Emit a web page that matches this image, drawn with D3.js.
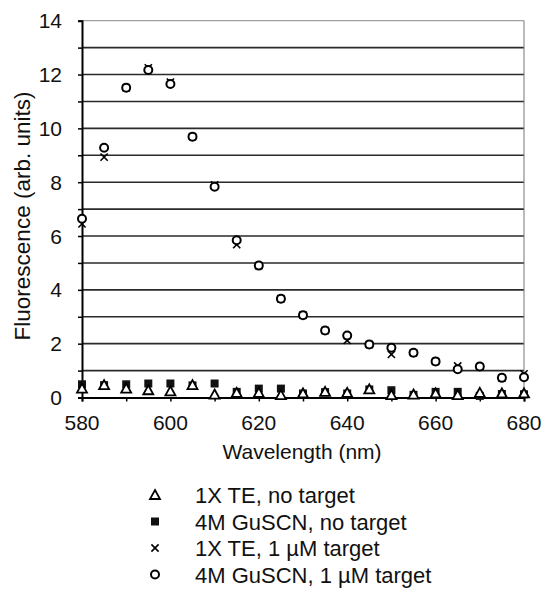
<!DOCTYPE html>
<html>
<head>
<meta charset="utf-8">
<script src="https://cdn.jsdelivr.net/npm/d3@7"></script>
<style>
  body { margin: 0; background: #fff; }
  svg text { font-family: "Liberation Sans", Arial, sans-serif; fill: #111; }
</style>
</head>
<body>
<div id="chart"></div>
<script>
// wavelengths (nm)
const wavelength = [580, 585, 590, 595, 600, 605, 610, 615, 620, 625, 630,
                    635, 640, 645, 650, 655, 660, 665, 670, 675, 680];

// fluorescence values
const teNoTarget = [0.33, 0.46, 0.33, 0.27, 0.23, 0.46, 0.11, 0.17, 0.17, 0.09, 0.15,
                    0.21, 0.17, 0.30, 0.09, 0.11, 0.15, 0.09, 0.17, 0.15, 0.15];
const gusNoTarget = [0.49, 0.46, 0.49, 0.52, 0.52, 0.45, 0.52, 0.21, 0.33, 0.33, 0.15,
                     0.20, 0.15, 0.30, 0.27, 0.10, 0.21, 0.21, 0.06, 0.13, 0.12];
const teTarget = [6.45, 8.93, 11.51, 12.25, 11.72, 9.69, 7.9, 5.68, 4.9, 3.67, 3.06,
                  2.49, 2.12, 1.97, 1.60, 1.66, 1.34, 1.17, 1.15, 0.73, 0.88];
const gusTarget = [6.64, 9.28, 11.51, 12.17, 11.65, 9.69, 7.83, 5.84, 4.9, 3.67, 3.06,
                   2.49, 2.30, 1.97, 1.85, 1.66, 1.34, 1.05, 1.15, 0.73, 0.75];

const xTicks = [580, 600, 620, 640, 660, 680];
const yTicks = [0, 2, 4, 6, 8, 10, 12, 14];
const legendLabels = ["1X TE, no target", "4M GuSCN, no target",
                      "1X TE, 1 \u00b5M target", "4M GuSCN, 1 \u00b5M target"];

const width = 543, height = 602;
const svg = d3.select("#chart").append("svg")
    .attr("width", width)
    .attr("height", height);

const x = d3.scaleLinear().domain([580, 680]).range([82, 524]);
const y = d3.scaleLinear().domain([0, 14]).range([397.5, 20.7]);

// horizontal grid lines, one per unit
const grid = svg.append("g");
grid.selectAll("line")
    .data(d3.range(1, 14))
    .enter()
    .append("line")
    .attr("x1", x(580)).attr("x2", x(680))
    .attr("y1", d => y(d)).attr("y2", d => y(d))
    .style("stroke", "#2a2a2a")
    .style("stroke-width", 1.6);

// top and right frame
svg.append("line")
    .attr("x1", x(580)).attr("x2", x(680))
    .attr("y1", y(14)).attr("y2", y(14))
    .style("stroke", "#888").style("stroke-width", 1);
svg.append("line")
    .attr("x1", x(680)).attr("x2", x(680))
    .attr("y1", y(14)).attr("y2", y(0))
    .style("stroke", "#777").style("stroke-width", 1);

// y axis
const yAxis = svg.append("g")
    .attr("transform", `translate(${x(580)},0)`)
    .call(d3.axisLeft(y).tickValues(d3.range(0, 15)).tickSize(4).tickFormat(""));
yAxis.select(".domain").style("stroke", "#000").style("stroke-width", 2);
yAxis.selectAll(".tick line").style("stroke", "#000").style("stroke-width", 1.5);

svg.append("g").selectAll("text")
    .data(yTicks)
    .enter()
    .append("text")
    .attr("x", 62)
    .attr("y", d => y(d))
    .attr("dy", "0.36em")
    .attr("text-anchor", "end")
    .style("font-size", "21px")
    .text(d => d);

// x axis
const xAxis = svg.append("g")
    .attr("transform", `translate(0,${y(0)})`)
    .call(d3.axisBottom(x).tickValues(d3.range(580, 681, 10)).tickSize(4).tickFormat(""));
xAxis.select(".domain").style("stroke", "#000").style("stroke-width", 2);
xAxis.selectAll(".tick line").style("stroke", "#000").style("stroke-width", 1.5);

svg.append("g").selectAll("text")
    .data(xTicks)
    .enter()
    .append("text")
    .attr("x", d => x(d))
    .attr("y", 430)
    .attr("text-anchor", "middle")
    .style("font-size", "21px")
    .text(d => d);

// axis titles
svg.append("text")
    .attr("x", 302).attr("y", 459)
    .attr("text-anchor", "middle")
    .style("font-size", "21px")
    .text("Wavelength (nm)");

svg.append("text")
    .attr("transform", "translate(30,216) rotate(-90)")
    .attr("text-anchor", "middle")
    .style("font-size", "22.5px")
    .text("Fluorescence (arb. units)");

// marker drawing helpers
function drawMarker(g, type) {
    if (type === "triangle") {
        g.append("path")
            .attr("d", "M0,-5 L5,4 L-5,4 Z")
            .style("fill", "#fff").style("stroke", "#000").style("stroke-width", 1.8);
    } else if (type === "square") {
        g.append("rect")
            .attr("x", -4).attr("y", -4).attr("width", 8).attr("height", 8)
            .style("fill", "#111");
    } else if (type === "cross") {
        g.append("path")
            .attr("d", "M-3.6,-3.6 L3.6,3.6 M-3.6,3.6 L3.6,-3.6")
            .style("fill", "none").style("stroke", "#000").style("stroke-width", 1.6);
    } else {
        g.append("circle")
            .attr("r", 4)
            .style("fill", "#fff").style("stroke", "#000").style("stroke-width", 2);
    }
}

const series = [
    { values: gusNoTarget, type: "square" },
    { values: teNoTarget, type: "triangle" },
    { values: teTarget, type: "cross" },
    { values: gusTarget, type: "circle" }
];

series.forEach(s => {
    const pts = svg.append("g").selectAll("g")
        .data(wavelength.map((w, i) => ({ w: w, v: s.values[i] })))
        .enter()
        .append("g")
        .attr("transform", d => `translate(${x(d.w)},${y(d.v)})`);
    pts.each(function () { drawMarker(d3.select(this), s.type); });
});

// legend
const legendTypes = ["triangle", "square", "cross", "circle"];
const legend = svg.append("g");
legendLabels.forEach((label, i) => {
    const base = 503 + i * 26.5;
    const m = legend.append("g").attr("transform", `translate(155,${base - 8})`);
    drawMarker(m, legendTypes[i]);
    legend.append("text")
        .attr("x", 195).attr("y", base)
        .style("font-size", "22px")
        .text(label);
});
</script>
</body>
</html>
